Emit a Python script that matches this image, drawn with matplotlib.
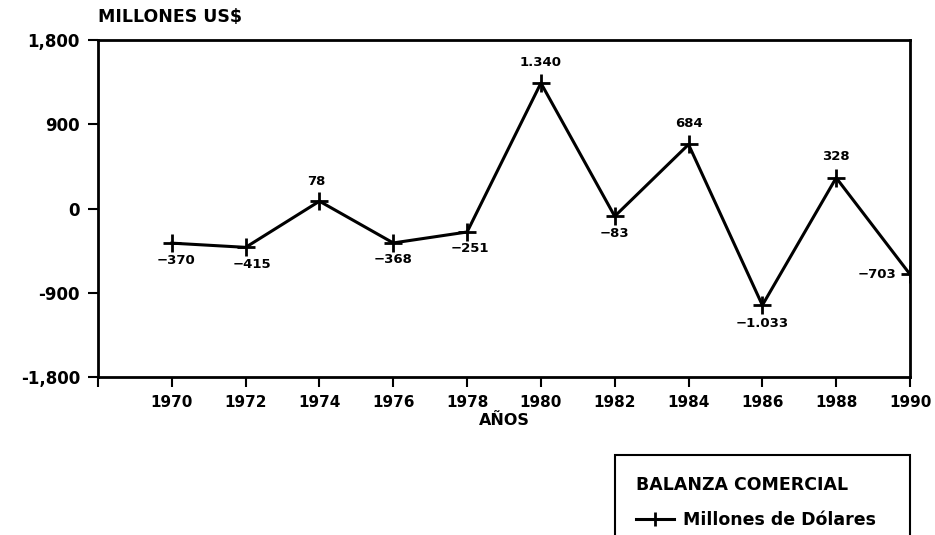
import matplotlib
matplotlib.use('Agg')
import matplotlib.pyplot as plt

years = ['1970', '1972', '1974', '1976', '1978', '1980', '1982', '1984', '1986', '1988', '1990']
balanza = [-370, -415, 78, -368, -251, 1340, -83, 684, -1033, 328, -703]
value_labels = ['\u2212370', '\u2212415', '78', '\u2212368', '\u2212251', '1.340',
                '\u221283', '684', '\u22121.033', '328', '\u2212703']
y_ticks = [-1800, -900, 0, 900, 1800]
y_ticklabels = ['-1,800', '-900', '0', '900', '1,800']

# label offsets in pixels (x, y) relative to each point
label_offsets = [(4, -17), (6, -17), (-3, 20), (0, -17), (3, -17), (0, 21),
                 (0, -17), (0, 21), (0, -18), (0, 21), (-14, 0)]

plt.rcParams['font.family'] = ['DejaVu Sans']
plt.rcParams['font.weight'] = 'bold'

fig = plt.figure(figsize=(9.35, 5.35), dpi=100)
ax = fig.add_axes([98 / 935, 1 - 377 / 535, 812 / 935, 337 / 535])

x = list(range(1, len(years) + 1))
ax.plot(x, balanza, color='black', lw=2.2, marker='+', ms=13, mew=2,
        label='Millones de Dólares')

for xi, yi, lab, off in zip(x, balanza, value_labels, label_offsets):
    ha = 'right' if off[0] < -10 else 'center'
    ax.annotate(lab, (xi, yi), xytext=off, textcoords='offset pixels',
                ha=ha, va='center', fontsize=9.5, fontweight='bold')

ax.set_xlim(0, len(years))
ax.set_ylim(-1800, 1800)
ax.set_xticks([0] + x)
ax.set_xticklabels([''] + years, fontsize=11, fontweight='bold')
ax.set_yticks(y_ticks)
ax.set_yticklabels(y_ticklabels, fontsize=12, fontweight='bold')
ax.tick_params(axis='both', direction='out', length=7, width=1.5, pad=6)
for sp in ax.spines.values():
    sp.set_linewidth(2)

ax.set_xlabel('AÑOS', fontsize=11.5, fontweight='bold', labelpad=2)
fig.text(98 / 935, 1 - 17 / 535, 'MILLONES US$', fontsize=12.5, fontweight='bold',
         ha='left', va='center')

leg = fig.legend(loc='upper left', bbox_to_anchor=(615 / 935, 1 - 455 / 535, 295 / 935, 0),
                 mode='expand', title='BALANZA COMERCIAL', alignment='left', fancybox=False,
                 edgecolor='black', framealpha=1, title_fontsize=12.5,
                 handlelength=2.2, handletextpad=0.5, borderpad=1.2, labelspacing=1.0,
                 borderaxespad=0, markerscale=0.8, prop={'weight': 'bold', 'size': 12.5})
leg.get_title().set_fontweight('bold')
leg.get_frame().set_linewidth(1.5)

fig.savefig('out.png', dpi=100)
